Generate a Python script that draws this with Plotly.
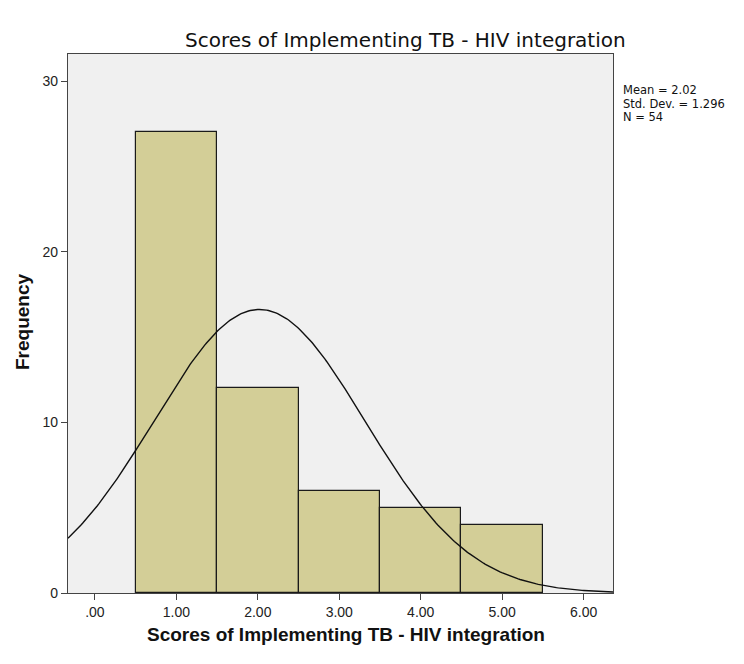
import numpy as np
import plotly.graph_objects as go

bin_centers = [1.0, 2.0, 3.0, 4.0, 5.0]
frequencies = [27, 12, 6, 5, 4]
x_tick_vals = [0, 1, 2, 3, 4, 5, 6]
x_tick_text = [".00", "1.00", "2.00", "3.00", "4.00", "5.00", "6.00"]
y_tick_vals = [0, 10, 20, 30]
mean_val = 2.02
std_val = 1.296
n_val = 54
bin_width = 1.0
stats_lines = ["Mean = %.2f" % mean_val, "Std. Dev. = %.3f" % std_val, "N = %d" % n_val]
title_text = "Scores of Implementing TB - HIV integration"

x_min, x_max = -0.33, 6.36
xs = np.linspace(x_min, x_max, 300)
ys = n_val * bin_width / (std_val * np.sqrt(2 * np.pi)) * np.exp(-0.5 * ((xs - mean_val) / std_val) ** 2)

L, R, T, B = 60, 139, 46, 79
W, H = 744, 664
plot_w = W - L - R
plot_h = H - T - B
OFF = 8  # default page body margin


def px(sx):
    return (sx - OFF - L) / plot_w


def py(sy):
    return 1 - (sy - OFF - T) / plot_h


fig = go.Figure()
fig.add_trace(go.Bar(
    x=bin_centers, y=frequencies, width=bin_width,
    marker=dict(color="#d3ce97", line=dict(color="#1a1a1a", width=1.2)),
    showlegend=False, hoverinfo="skip"))
fig.add_trace(go.Scatter(
    x=xs, y=ys, mode="lines", line=dict(color="#111111", width=1.4),
    showlegend=False, hoverinfo="skip"))

annotations = [
    dict(text=title_text, x=px(405), y=py(40),
         xref="paper", yref="paper", xanchor="center", yanchor="middle",
         showarrow=False, font=dict(family="DejaVu Sans", size=20, color="#111111")),
    dict(text="<b>" + title_text + "</b>", x=px(346), y=py(634),
         xref="paper", yref="paper", xanchor="center", yanchor="middle",
         showarrow=False, font=dict(size=19, color="#111111")),
    dict(text="<b>Frequency</b>", x=px(22), y=py(322), xref="paper", yref="paper",
         textangle=-90, xanchor="center", yanchor="middle",
         showarrow=False, font=dict(size=19, color="#111111")),
]
for i, line in enumerate(stats_lines):
    annotations.append(dict(
        text=line, x=px(621), y=py(90 + 13.5 * i), xref="paper", yref="paper",
        xanchor="left", yanchor="middle", align="left", showarrow=False,
        font=dict(family="DejaVu Sans", size=11.5, color="#111111")))

fig.update_layout(
    width=W, height=H,
    margin=dict(l=L, r=R, t=T, b=B),
    paper_bgcolor="white", plot_bgcolor="#f0f0f0",
    font=dict(family="Arial, Liberation Sans, sans-serif", size=12, color="#222222"),
    bargap=0,
    xaxis=dict(range=[x_min, x_max], tickvals=x_tick_vals, ticktext=x_tick_text,
               showgrid=False, zeroline=False, ticks="outside", ticklen=6,
               tickcolor="#444444", showline=True, linecolor="#444444", linewidth=1.2,
               mirror=True, tickfont=dict(size=14, color="#222222")),
    yaxis=dict(range=[0, 31.6], tickvals=y_tick_vals,
               showgrid=False, zeroline=False, ticks="outside", ticklen=6,
               tickcolor="#444444", showline=True, linecolor="#444444", linewidth=1.2,
               mirror=True, tickfont=dict(size=14, color="#222222")),
    annotations=annotations,
)
fig.write_html("out.html")
